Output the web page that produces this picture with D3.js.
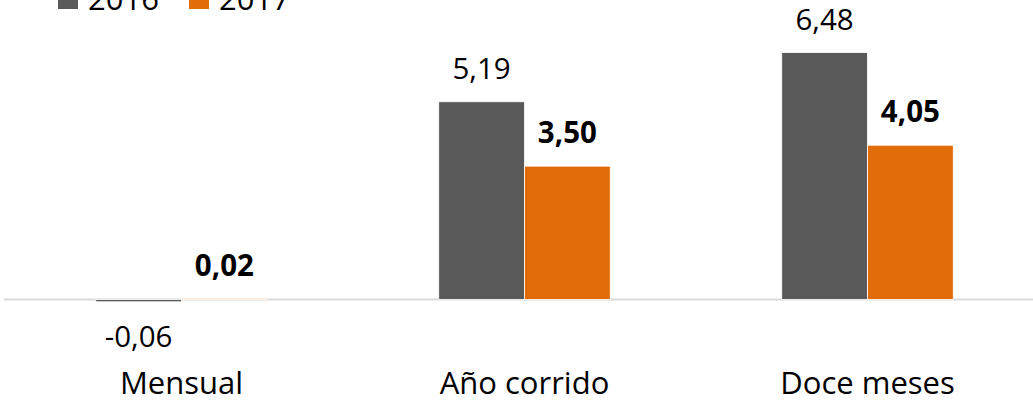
<!DOCTYPE html>
<meta charset="utf-8">
<style>
  body { margin: 0; background: #fff; }
  text { font-family: "Open Sans", sans-serif; fill: #000; }
</style>
<svg width="1033" height="402"></svg>
<script src="https://d3js.org/d3.v7.min.js"></script>
<script>

var categories = ["Mensual", "Año corrido", "Doce meses"],
    series = ["2016", "2017"],
    values2016 = [-0.06, 5.19, 6.48],
    values2017 = [0.02, 3.50, 4.05];

var colors = ["#595959", "#e36c0a"];

var svg = d3.select("svg"),
    width = +svg.attr("width"),
    baseline = 299.5,
    pxPerUnit = 38.1;

var data = categories.map(function(c, i) {
  return {cat: c, vals: [values2016[i], values2017[i]]};
});

var x0 = d3.scaleBand()
    .domain(categories)
    .range([10, 1039])
    .paddingInner(0.5)
    .paddingOuter(0.25);

var x1 = d3.scaleBand()
    .domain(series)
    .range([0, x0.bandwidth()]);

var y = d3.scaleLinear()
    .domain([0, 7])
    .range([baseline, baseline - 7 * pxPerUnit]);

var fmt = function(v) { return d3.format(".2f")(v).replace(".", ",").replace("−", "-"); };

// zero line
svg.append("line")
    .attr("x1", 4).attr("x2", width)
    .attr("y1", y(0)).attr("y2", y(0))
    .attr("stroke", "#d9d9d9")
    .attr("stroke-width", 2);

var group = svg.selectAll(".grp")
  .data(data)
  .enter().append("g")
    .attr("class", "grp")
    .attr("transform", function(d) { return "translate(" + x0(d.cat) + ",0)"; });

var cells = group.selectAll(".cell")
  .data(function(d) { return d.vals.map(function(v, i) { return {key: series[i], v: v, i: i}; }); })
  .enter();

cells.append("rect")
    .attr("x", function(d) { return x1(d.key); })
    .attr("width", x1.bandwidth())
    .attr("y", function(d) { return d.v >= 0 ? y(d.v) : y(0); })
    .attr("height", function(d) { return Math.abs(y(d.v) - y(0)); })
    .attr("fill", function(d) { return colors[d.i]; })
    .attr("stroke", "#fff")
    .attr("stroke-width", 0.8);

cells.append("text")
    .attr("x", function(d) { return x1(d.key) + x1.bandwidth() / 2; })
    .attr("y", function(d) { return d.v >= 0 ? y(d.v) - 23 : y(d.v) + 45; })
    .attr("text-anchor", "middle")
    .style("font-size", "29.5px")
    .style("font-weight", function(d) { return d.i === 1 ? "bold" : "normal"; })
    .text(function(d) { return fmt(d.v); });

// category labels
svg.selectAll(".cat")
  .data(categories)
  .enter().append("text")
    .attr("class", "cat")
    .attr("x", function(d) { return x0(d) + x0.bandwidth() / 2; })
    .attr("y", 394)
    .attr("text-anchor", "middle")
    .style("font-size", "31px")
    .text(function(d) { return d; });

// legend (cut off at top)
var legend = svg.selectAll(".leg")
  .data(series)
  .enter().append("g")
    .attr("class", "leg")
    .attr("transform", function(d, i) { return "translate(" + (58 + i * 131) + ",0)"; });

legend.append("rect")
    .attr("x", 0).attr("y", -11)
    .attr("width", 20).attr("height", 20)
    .attr("fill", function(d, i) { return colors[i]; });

legend.append("text")
    .attr("x", 30).attr("y", 10)
    .style("font-size", "31px")
    .text(function(d) { return d; });

</script>
